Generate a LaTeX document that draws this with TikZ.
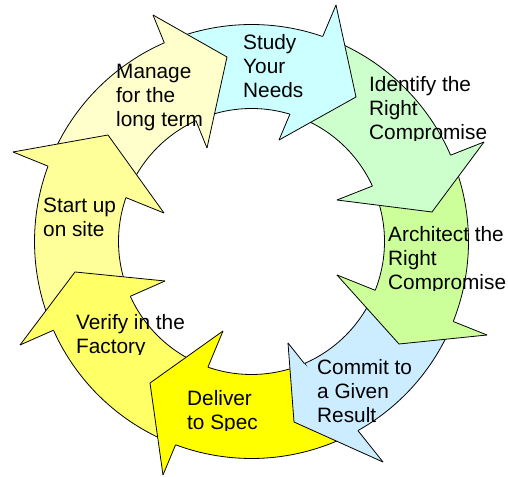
\documentclass[tikz,border=0pt]{standalone}
\usepackage{fontspec}
\setmainfont{Liberation Sans}
\usetikzlibrary{calc}
\definecolor{cStudy}{HTML}{CCFFFF}
\definecolor{cIdent}{HTML}{CCFFCC}
\definecolor{cArch}{HTML}{CCFF99}
\definecolor{cCommit}{HTML}{CCECFF}
\definecolor{cDeliver}{HTML}{FFFF00}
\definecolor{cVerify}{HTML}{FFFF66}
\definecolor{cStart}{HTML}{FFFF99}
\definecolor{cManage}{HTML}{FFFFCC}
\newcommand\cycRo{217pt}
\newcommand\cycRi{133pt}
\newcommand\cycbody[3]{\filldraw[fill=#1,cycline] ($(C)+(#2:\cycRo)$) arc[start angle=#2,end angle=#3,radius=\cycRo] -- ($(C)+(#3:\cycRi)$) arc[start angle=#3,end angle=#2,radius=\cycRi] -- cycle;}
\newcommand\cychead[4]{\fill[#1] (#2) -- (#3) -- (#4) -- cycle;
 \draw[cycline] (#2) -- (#3) -- (#4);
 \begin{scope}[even odd rule]\clip (0,0) rectangle (508,476) (C) circle[radius=\cycRo] (C) circle[radius=\cycRi];
 \draw[cycline] (#2) -- (#4);\end{scope}}
\begin{document}
\begin{tikzpicture}[x=1pt,y=1pt,line join=round,
  cycline/.style={draw=black,line width=0.8pt},
  lbl/.style={anchor=base west,inner sep=0pt,font=\fontsize{20.8pt}{24pt}\selectfont}]
\useasboundingbox (0,0) rectangle (508,476);
\fill[white] (0,0) rectangle (508,476);
\coordinate (C) at (251.5,234.5);
% head points
\coordinate (sOb) at (336,471); \coordinate (sTip) at (356,379); \coordinate (sIb) at (279,336);
\coordinate (iOb) at (484,334); \coordinate (iTip) at (432,264); \coordinate (iIb) at (337,276);
\coordinate (aOb) at (487,141); \coordinate (aTip) at (399,132); \coordinate (aIb) at (337,201);
\coordinate (cOb) at (383,14);  \coordinate (cTip) at (294,54);  \coordinate (cIb) at (288,133);
\coordinate (dOb) at (163,1);   \coordinate (dTip) at (150,93);  \coordinate (dIb) at (223,145);
\coordinate (vOb) at (20,131);  \coordinate (vTip) at (75,204);  \coordinate (vIb) at (165,195);
\coordinate (tOb) at (13,324);  \coordinate (tTip) at (108,341); \coordinate (tIb) at (164,263);
\coordinate (mOb) at (153,461); \coordinate (mTip) at (227,419); \coordinate (mIb) at (207,328);
% bodies
\cycbody{cStudy}{110.3}{67}
\cycbody{cIdent}{67}{20}
\cycbody{cArch}{20}{-24}
\cycbody{cCommit}{-24}{-66.3}
\cycbody{cDeliver}{-66.3}{-113}
\cycbody{cVerify}{-113}{-158.8}
\cycbody{cStart}{-158.8}{-203.7}
\cycbody{cManage}{156.3}{110.3}
% heads
\cychead{cStudy}{sOb}{sTip}{sIb}
\cychead{cIdent}{iOb}{iTip}{iIb}
\cychead{cArch}{aOb}{aTip}{aIb}
\cychead{cCommit}{cOb}{cTip}{cIb}
\cychead{cDeliver}{dOb}{dTip}{dIb}
\cychead{cVerify}{vOb}{vTip}{vIb}
\cychead{cStart}{tOb}{tTip}{tIb}
\cychead{cManage}{mOb}{mTip}{mIb}
% labels
\node[lbl] (manage) at (116,397) {\begin{tabular}[t]{@{}l@{}}Manage\\for the\\long term\end{tabular}};
\node[lbl] (study) at (243,426) {\begin{tabular}[t]{@{}l@{}}Study\\Your\\Needs\end{tabular}};
\begin{scope}
\clip (360,335) rectangle (508,476);
\node[lbl] (identify) at (369,384) {\begin{tabular}[t]{@{}l@{}}Identify the\\Right\\Compromise\end{tabular}};
\end{scope}
\begin{scope}
\clip (380,185) rectangle (508,300);
\node[lbl] (architect) at (388,234) {\begin{tabular}[t]{@{}l@{}}Architect the\\Right\\Compromise\end{tabular}};
\end{scope}
\node[lbl] (commit) at (317,101) {\begin{tabular}[t]{@{}l@{}}Commit to\\a Given\\Result\end{tabular}};
\begin{scope}
\clip (180,45) rectangle (300,110);
\node[lbl] (deliver) at (187,70) {\begin{tabular}[t]{@{}l@{}}Deliver\\to Spec\end{tabular}};
\end{scope}
\begin{scope}
\clip (70,121) rectangle (220,180);
\node[lbl] (verify) at (76,146) {\begin{tabular}[t]{@{}l@{}}Verify in the\\Factory\end{tabular}};
\end{scope}
\node[lbl] (start) at (43,263) {\begin{tabular}[t]{@{}l@{}}Start up\\on site\end{tabular}};
\end{tikzpicture}
\end{document}
